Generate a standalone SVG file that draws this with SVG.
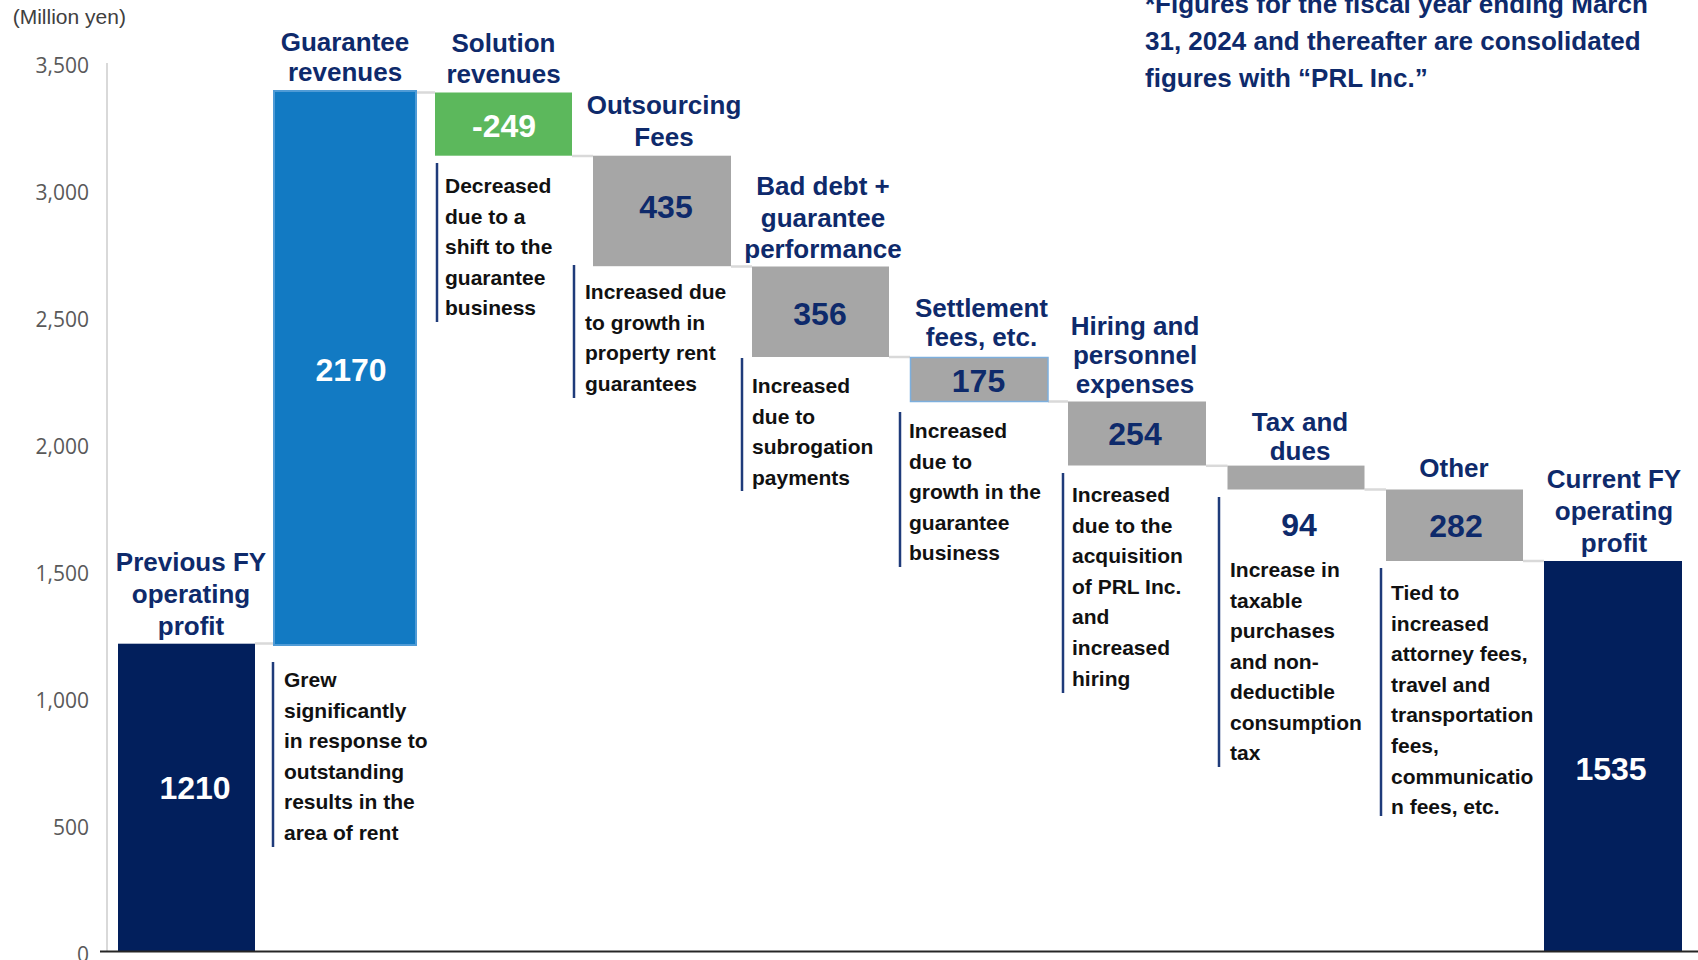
<svg xmlns="http://www.w3.org/2000/svg" width="1698" height="960" viewBox="0 0 1698 960">
<style>
.ttl{font-family:"Liberation Sans",Arial,sans-serif;font-weight:bold;font-size:26px;fill:#0E2A6B;text-anchor:middle}
.num{font-family:"Liberation Sans",Arial,sans-serif;font-weight:bold;font-size:32px;text-anchor:middle}
.wh{fill:#FFFFFF}
.nv{fill:#0E2A6B}
.ann{font-family:"Liberation Sans",Arial,sans-serif;font-weight:bold;font-size:21px;fill:#111111}
.aln{stroke:#1F3B7A;stroke-width:2.5;fill:none}
.tick{font-family:"Open Sans","Noto Sans",sans-serif;font-size:21px;fill:#595959;text-anchor:end}
.gray{fill:#A6A6A6}
.navy{fill:#021F5C}
.conn{stroke:#D9D9D9;stroke-width:2.5;fill:none}
</style>
<rect x="0" y="0" width="1698" height="960" fill="#FFFFFF"/>

<g id="axis">
<line x1="107" y1="63" x2="107" y2="951" stroke="#D9D9D9" stroke-width="2"/>
<text class="tick" x="89" y="72.5">3,500</text>
<text class="tick" x="89" y="199.5">3,000</text>
<text class="tick" x="89" y="326.5">2,500</text>
<text class="tick" x="89" y="453.5">2,000</text>
<text class="tick" x="89" y="580.5">1,500</text>
<text class="tick" x="89" y="707.5">1,000</text>
<text class="tick" x="89" y="834.5">500</text>
<text class="tick" x="89" y="961.5">0</text>
<text x="12.7" y="24" font-family="Liberation Sans, Arial, sans-serif" font-size="21" fill="#404040">(Million yen)</text>
</g>

<g id="note">
<text font-family="Liberation Sans, Arial, sans-serif" font-weight="bold" font-size="26" fill="#0E2A6B">
<tspan x="1145" y="13">*Figures for the fiscal year ending March</tspan>
<tspan x="1145" y="50">31, 2024 and thereafter are consolidated</tspan>
<tspan x="1145" y="87">figures with “PRL Inc.”</tspan>
</text>
</g>

<g id="connectors">
<line class="conn" x1="255" y1="643.5" x2="273" y2="643.5"/>
<line class="conn" x1="417" y1="92.5" x2="435" y2="92.5"/>
<line class="conn" x1="572" y1="156" x2="593" y2="156"/>
<line class="conn" x1="731" y1="266.5" x2="752" y2="266.5"/>
<line class="conn" x1="889" y1="357" x2="910" y2="357"/>
<line class="conn" x1="1048" y1="401.5" x2="1068" y2="401.5"/>
<line class="conn" x1="1206" y1="465.8" x2="1227.5" y2="465.8"/>
<line class="conn" x1="1364.5" y1="489.5" x2="1386" y2="489.5"/>
<line class="conn" x1="1523" y1="561" x2="1544" y2="561"/>
</g>

<g id="prev">
<rect class="navy" x="118" y="643.7" width="137" height="307.3"/>
<text class="ttl"><tspan x="191" y="571">Previous FY</tspan><tspan x="191" y="603">operating</tspan><tspan x="191" y="635">profit</tspan></text>
<text class="num wh" x="195" y="799">1210</text>
</g>

<g id="guarantee">
<rect x="274" y="91" width="142" height="554" fill="#127AC3" stroke="#4F9BD6" stroke-width="2"/>
<text class="ttl"><tspan x="345" y="51">Guarantee</tspan><tspan x="345" y="81">revenues</tspan></text>
<text class="num wh" x="351" y="381">2170</text>
<line class="aln" x1="273" y1="662" x2="273" y2="847"/>
<text class="ann"><tspan x="284" y="687">Grew</tspan><tspan x="284" y="717.6">significantly</tspan><tspan x="284" y="748.2">in response to</tspan><tspan x="284" y="778.8">outstanding</tspan><tspan x="284" y="809.4">results in the</tspan><tspan x="284" y="840">area of rent</tspan></text>
</g>

<g id="solution">
<rect x="435" y="92.5" width="137" height="63.2" fill="#5CB85C"/>
<text class="ttl"><tspan x="503.5" y="52">Solution</tspan><tspan x="503.5" y="83">revenues</tspan></text>
<text class="num wh" x="504" y="137">-249</text>
<line class="aln" x1="437" y1="163" x2="437" y2="322"/>
<text class="ann"><tspan x="445" y="193">Decreased</tspan><tspan x="445" y="223.6">due to a</tspan><tspan x="445" y="254.2">shift to the</tspan><tspan x="445" y="284.8">guarantee</tspan><tspan x="445" y="315.4">business</tspan></text>
</g>

<g id="outsourcing">
<rect class="gray" x="593" y="155.7" width="138" height="110.5"/>
<text class="ttl"><tspan x="664" y="114">Outsourcing</tspan><tspan x="664" y="145.5">Fees</tspan></text>
<text class="num nv" x="666" y="218">435</text>
<line class="aln" x1="574" y1="265" x2="574" y2="398"/>
<text class="ann"><tspan x="585" y="299">Increased due</tspan><tspan x="585" y="329.6">to growth in</tspan><tspan x="585" y="360.2">property rent</tspan><tspan x="585" y="390.8">guarantees</tspan></text>
</g>

<g id="baddebt">
<rect class="gray" x="752" y="266.5" width="137" height="90.5"/>
<text class="ttl"><tspan x="823" y="194.5">Bad debt +</tspan><tspan x="823" y="226.5">guarantee</tspan><tspan x="823" y="258">performance</tspan></text>
<text class="num nv" x="820" y="325">356</text>
<line class="aln" x1="742" y1="358" x2="742" y2="491"/>
<text class="ann"><tspan x="752" y="393">Increased</tspan><tspan x="752" y="423.6">due to</tspan><tspan x="752" y="454.2">subrogation</tspan><tspan x="752" y="484.8">payments</tspan></text>
</g>

<g id="settlement">
<rect class="gray" x="910.5" y="357.5" width="137.5" height="44" stroke="#7DAFDD" stroke-width="1.5"/>
<text class="ttl"><tspan x="981.5" y="317">Settlement</tspan><tspan x="981.5" y="346">fees, etc.</tspan></text>
<text class="num nv" x="978.5" y="392">175</text>
<line class="aln" x1="900" y1="412" x2="900" y2="567"/>
<text class="ann"><tspan x="909" y="438">Increased</tspan><tspan x="909" y="468.6">due to</tspan><tspan x="909" y="499.2">growth in the</tspan><tspan x="909" y="529.8">guarantee</tspan><tspan x="909" y="560.4">business</tspan></text>
</g>

<g id="hiring">
<rect class="gray" x="1068" y="401.5" width="138" height="64"/>
<text class="ttl"><tspan x="1135" y="335">Hiring and</tspan><tspan x="1135" y="364">personnel</tspan><tspan x="1135" y="392.5">expenses</tspan></text>
<text class="num nv" x="1135" y="445">254</text>
<line class="aln" x1="1063" y1="473" x2="1063" y2="693"/>
<text class="ann"><tspan x="1072" y="502">Increased</tspan><tspan x="1072" y="532.6">due to the</tspan><tspan x="1072" y="563.2">acquisition</tspan><tspan x="1072" y="593.8">of PRL Inc.</tspan><tspan x="1072" y="624.4">and</tspan><tspan x="1072" y="655">increased</tspan><tspan x="1072" y="685.6">hiring</tspan></text>
</g>

<g id="tax">
<rect class="gray" x="1227.5" y="465.6" width="137" height="23.9"/>
<text class="ttl"><tspan x="1300" y="431">Tax and</tspan><tspan x="1300" y="460">dues</tspan></text>
<text class="num nv" x="1299" y="536">94</text>
<line class="aln" x1="1219" y1="497" x2="1219" y2="767"/>
<text class="ann"><tspan x="1230" y="577">Increase in</tspan><tspan x="1230" y="607.5">taxable</tspan><tspan x="1230" y="638">purchases</tspan><tspan x="1230" y="668.5">and non-</tspan><tspan x="1230" y="699">deductible</tspan><tspan x="1230" y="729.5">consumption</tspan><tspan x="1230" y="760">tax</tspan></text>
</g>

<g id="other">
<rect class="gray" x="1386" y="489.5" width="137" height="71.5"/>
<text class="ttl"><tspan x="1454" y="477">Other</tspan></text>
<text class="num nv" x="1456" y="537">282</text>
<line class="aln" x1="1381" y1="568" x2="1381" y2="816"/>
<text class="ann"><tspan x="1391" y="600">Tied to</tspan><tspan x="1391" y="630.6">increased</tspan><tspan x="1391" y="661.2">attorney fees,</tspan><tspan x="1391" y="691.8">travel and</tspan><tspan x="1391" y="722.4">transportation</tspan><tspan x="1391" y="753">fees,</tspan><tspan x="1391" y="783.6">communicatio</tspan><tspan x="1391" y="814.2">n fees, etc.</tspan></text>
</g>

<g id="current">
<rect class="navy" x="1544" y="561" width="138" height="390"/>
<text class="ttl"><tspan x="1614" y="488">Current FY</tspan><tspan x="1614" y="520">operating</tspan><tspan x="1614" y="552">profit</tspan></text>
<text class="num wh" x="1611" y="780">1535</text>
</g>

<line x1="100" y1="951.5" x2="1698" y2="951.5" stroke="#262626" stroke-width="2"/>
</svg>
